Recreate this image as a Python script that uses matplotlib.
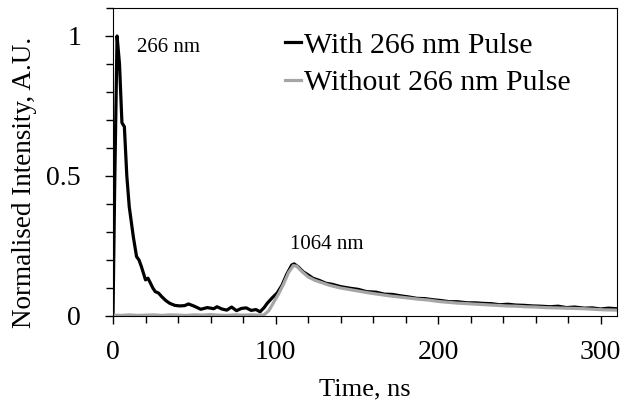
import numpy as np
import matplotlib
matplotlib.use('Agg')
import matplotlib.pyplot as plt
from matplotlib.ticker import MultipleLocator, FuncFormatter

plt.rcParams['font.family'] = ['Liberation Serif', 'DejaVu Serif']

# With 266 nm pulse
t_with = [0, 1, 2.5, 4, 5.5, 7, 8.5, 10, 12.5, 14.5, 16, 17.5, 20, 21.5, 23, 24.5, 26,
          28, 30, 32.5, 35, 38, 41, 44, 46.5, 50, 54, 58, 62, 64, 67, 70, 73, 76,
          79, 82, 85, 88, 90.5, 93, 95, 98, 101, 104, 107, 110, 111.5, 114, 117,
          120, 123, 127, 131, 135, 140, 146, 151, 156, 162, 167, 172, 177, 182,
          187, 192, 197, 202, 207, 212, 218, 223, 228, 233, 238, 243, 248, 253,
          258, 263, 269, 274, 279, 284, 290, 295, 300, 305, 310]
y_with = [0.0, 0.45, 1.0, 0.90, 0.69, 0.676, 0.50, 0.39, 0.283, 0.212, 0.20, 0.176,
          0.129, 0.135, 0.118, 0.10, 0.087, 0.082, 0.069, 0.055, 0.045, 0.038,
          0.036, 0.037, 0.043, 0.035, 0.024, 0.030, 0.026, 0.033, 0.025, 0.021,
          0.032, 0.019, 0.027, 0.029, 0.020, 0.023, 0.015, 0.030, 0.046, 0.065,
          0.082, 0.110, 0.150, 0.182, 0.186, 0.175, 0.158, 0.147, 0.135, 0.127,
          0.117, 0.113, 0.105, 0.099, 0.095, 0.087, 0.085, 0.078, 0.077, 0.072,
          0.068, 0.063, 0.062, 0.058, 0.055, 0.051, 0.051, 0.047, 0.047, 0.045,
          0.044, 0.040, 0.042, 0.039, 0.038, 0.036, 0.035, 0.033, 0.035, 0.030,
          0.032, 0.028, 0.029, 0.025, 0.028, 0.026]

# Without 266 nm pulse
t_without = [0, 5, 10, 15, 20, 25, 30, 35, 40, 45, 50, 55, 60, 65, 70, 75, 80, 85,
             90, 93, 96, 99, 102, 105, 108, 111, 113, 116, 120, 124, 128, 133, 140,
             146, 152, 158, 164, 170, 176, 182, 188, 194, 200, 206, 212, 218, 224,
             230, 236, 242, 248, 254, 260, 266, 272, 278, 284, 290, 296, 302, 310]
y_without = [0.003, 0.002, 0.004, 0.002, 0.003, 0.004, 0.002, 0.004, 0.003, 0.002,
             0.004, 0.003, 0.005, 0.003, 0.002, 0.004, 0.003, 0.004, 0.003, 0.004,
             0.020, 0.050, 0.080, 0.115, 0.155, 0.180, 0.178, 0.160, 0.140, 0.128,
             0.120, 0.110, 0.100, 0.094, 0.088, 0.082, 0.077, 0.072, 0.068, 0.064,
             0.060, 0.057, 0.052, 0.049, 0.046, 0.044, 0.042, 0.040, 0.038, 0.036,
             0.035, 0.033, 0.032, 0.030, 0.029, 0.028, 0.027, 0.026, 0.024, 0.022,
             0.021]

fig = plt.figure(figsize=(6.25, 4.08), dpi=100)
ax = fig.add_axes([0.1808, 0.2255, 0.806, 0.755])

ax.plot(t_with, y_with, color='black', lw=2.3, label='With 266 nm Pulse')
ax.plot(t_without, y_without, color='#a6a6a6', lw=2.3, label='Without 266 nm Pulse')

ax.set_xlim(0, 310)
ax.set_ylim(0, 1.1)
ax.xaxis.set_major_locator(MultipleLocator(100))
ax.xaxis.set_minor_locator(MultipleLocator(20))
ax.yaxis.set_major_locator(MultipleLocator(0.5))
ax.yaxis.set_minor_locator(MultipleLocator(0.1))
ax.yaxis.set_major_formatter(FuncFormatter(lambda v, p: '%g' % v))
ax.tick_params(which='both', direction='out', top=False, right=False, width=1)
ax.tick_params(which='major', length=6, labelsize=20)
ax.tick_params(which='minor', length=5)
ax.tick_params(axis='x', which='major', pad=11)
ax.tick_params(axis='y', which='major', pad=17)

ax.set_xlabel('Time, ns', fontsize=19, labelpad=10)
ax.set_ylabel('Normalised Intensity, A.U.', fontsize=19.5)
ax.yaxis.set_label_coords(-0.15, 0.432)

ax.text(14.5, 0.96, '266 nm', fontsize=15, va='center', ha='left')
ax.text(109, 0.257, '1064 nm', fontsize=15, va='center', ha='left')

leg = ax.legend(loc='upper left', bbox_to_anchor=(0.323, 0.951), frameon=False,
                fontsize=21.5, handlelength=0.55, handletextpad=0.1,
                borderaxespad=0.0, borderpad=0.3, labelspacing=0.35)

fig.savefig('out.png', dpi=100)
